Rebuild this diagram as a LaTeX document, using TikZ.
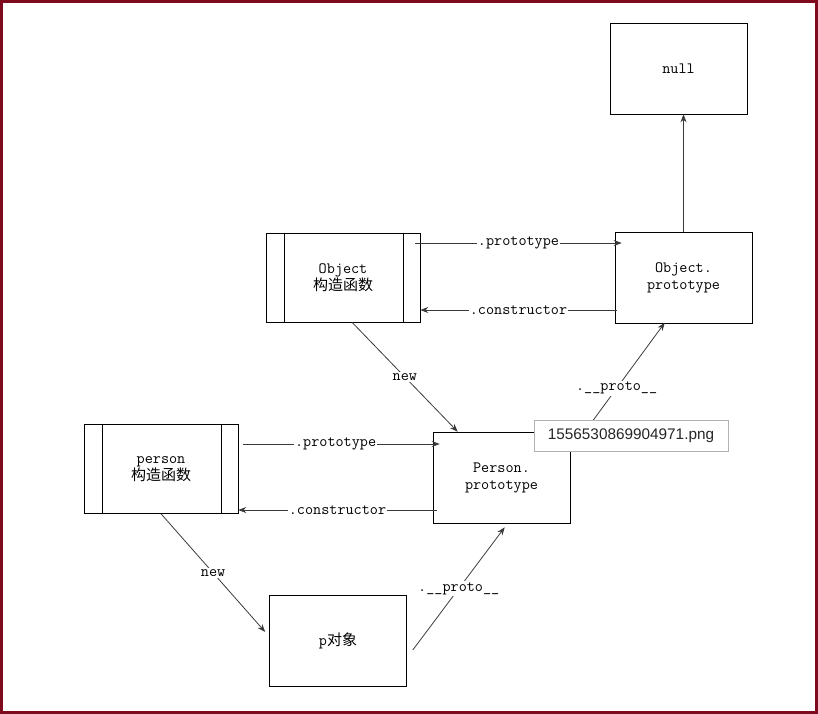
\documentclass[tikz,border=0pt]{standalone}
\usepackage{fontspec}
\newfontfamily\cjk{Noto Sans CJK SC}
\newfontfamily\tipfont{Liberation Sans}
\usetikzlibrary{arrows.meta,calc}
\definecolor{frame}{HTML}{7F0A1E}
\definecolor{wire}{HTML}{3A3A3A}
\newcommand{\zh}[1]{{\cjk\fontsize{11.25}{12.75}\selectfont #1}}

\begin{document}
\begin{tikzpicture}[
      x=0.75pt,y=-0.75pt,
      font=\ttfamily\fontsize{11.8}{12.75}\selectfont,
      box/.style={draw=black,thin,align=center,minimum width=102.75pt,minimum height=68.25pt},
      ctor/.style={box,minimum width=115.5pt,minimum height=66.75pt},
      arrow/.style={-{Stealth[length=6pt,width=4.5pt]},draw=wire,line width=0.6pt},
      lbl/.style={fill=white,inner sep=1pt},
      tip/.style={draw=gray!60,fill=white,minimum width=145.5pt,minimum height=23.25pt,
        font=\tipfont\fontsize{11.5}{13}\selectfont,text=black!85}
    ]
      \useasboundingbox (0,0) rectangle (818,714);
      \draw[frame,line width=2.25pt] (1.5,1.5) rectangle (816.5,712.5);
      % boxes
      \node[box] (null) at (678.5,68.5) {null};
      \node[ctor] (objc) at (343,277.5) {Object\\\zh{构造函数}};
      \node[box] (objp) at (683.5,278) {Object.\\prototype};
      \node[ctor] (perc) at (161,469) {person\\\zh{构造函数}};
      \node[box] (perp) at (501.5,477.5) {Person.\\prototype};
      \node[box] (pobj) at (338,641) {p\zh{对象}};
      \foreach \c in {objc,perc} {
        \draw ($(\c.north west)+(19,0)$) -- ($(\c.south west)+(19,0)$);
        \draw ($(\c.north east)+(-17,0)$) -- ($(\c.south east)+(-17,0)$);
      }
      % connectors
      \draw[arrow] (objp.north) -- (objp.north |- null.south);
      \draw[arrow] ($(objc.east)+(-5,-34.5)$) -- node[lbl]{.prototype} ($(objp.west)+(7,-35)$);
      \draw[arrow] ($(objp.west)+(2,32)$) -- node[lbl]{.constructor} ($(objc.east)+(0,32.5)$);
      \draw[arrow] ($(objc.south)+(9,0)$) -- node[lbl]{new} ($(perp.north west)+(25,0)$);
      \draw[arrow] ($(perp.north east)+(2,17)$) -- node[lbl,pos=0.48]{.\_\_proto\_\_} ($(objp.south west)+(50,-1)$);
      \draw[arrow] ($(perc.east)+(5,-25)$) -- node[lbl,pos=0.47]{.prototype} ($(perp.west)+(7,-33.5)$);
      \draw[arrow] ($(perp.west)+(4,32.5)$) -- node[lbl]{.constructor} ($(perc.east)+(0,41)$);
      \draw[arrow] (perc.south) -- node[lbl]{new} ($(pobj.west)+(-4,-9)$);
      \draw[arrow] ($(pobj.east)+(6,9)$) -- node[lbl]{.\_\_proto\_\_} ($(perp.south west)+(72,4)$);
      % file name tooltip
      \node[tip] (fname) at (631,435.5) {1556530869904971.png};
    \end{tikzpicture}
\end{document}
